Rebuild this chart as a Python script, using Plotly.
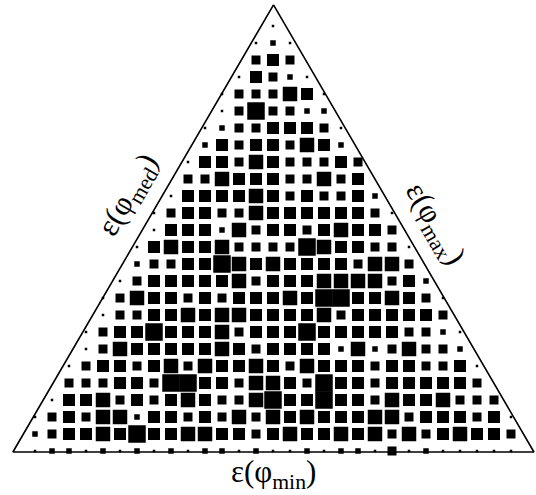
import plotly.graph_objects as go

# size level of every grid cell, one list per row (top to bottom), centred on the apex column
rows = [
    [0],
    [0, 1, 0],
    [2, 3, 2],
    [0, 3, 2, 1, 0],
    [0, 2, 2, 2, 4, 3, 0],
    [0, 2, 5, 2, 2, 1, 1],
    [0, 1, 2, 2, 3, 3, 3, 2, 0],
    [1, 3, 2, 3, 3, 2, 4, 3, 1],
    [0, 3, 3, 2, 4, 3, 2, 2, 2, 3, 2],
    [2, 2, 4, 3, 3, 3, 2, 2, 4, 2, 3],
    [0, 3, 3, 3, 3, 4, 3, 2, 3, 2, 2, 3, 1],
    [0, 2, 3, 3, 2, 2, 4, 3, 3, 3, 3, 3, 3, 2, 0],
    [0, 3, 3, 3, 1, 4, 2, 3, 3, 2, 3, 4, 3, 3, 2],
    [0, 3, 4, 3, 3, 4, 2, 2, 2, 2, 5, 4, 3, 3, 2, 2, 0],
    [1, 2, 2, 3, 3, 5, 4, 3, 4, 3, 3, 3, 3, 2, 4, 4, 2],
    [0, 2, 3, 3, 3, 3, 3, 4, 2, 3, 3, 3, 4, 4, 4, 4, 2, 3, 1],
    [0, 2, 4, 3, 3, 2, 3, 2, 3, 3, 3, 4, 3, 5, 5, 3, 3, 4, 3, 2, 0],
    [0, 2, 2, 3, 3, 4, 3, 4, 4, 3, 3, 3, 3, 4, 2, 3, 3, 3, 3, 3, 2],
    [0, 2, 3, 3, 5, 3, 3, 3, 4, 2, 3, 3, 3, 5, 3, 3, 3, 3, 3, 2, 2, 1, 0],
    [0, 2, 4, 3, 3, 3, 3, 3, 4, 3, 2, 3, 3, 3, 3, 1, 4, 1, 2, 4, 2, 2, 1],
    [0, 2, 3, 3, 2, 3, 4, 2, 4, 3, 3, 4, 3, 2, 4, 3, 3, 3, 2, 3, 3, 2, 2, 3, 0],
    [2, 2, 2, 3, 3, 2, 5, 5, 3, 3, 2, 4, 4, 3, 2, 5, 3, 3, 2, 3, 3, 3, 3, 3, 2],
    [0, 3, 3, 4, 2, 3, 2, 3, 4, 3, 2, 2, 4, 5, 3, 3, 5, 3, 3, 2, 4, 3, 3, 4, 2, 2, 2],
    [0, 2, 3, 2, 4, 4, 1, 3, 3, 2, 3, 2, 4, 2, 4, 3, 4, 3, 3, 3, 4, 4, 2, 3, 3, 3, 2, 3, 0],
    [1, 2, 3, 3, 4, 3, 5, 3, 3, 4, 4, 3, 3, 2, 3, 4, 3, 3, 4, 3, 4, 2, 4, 2, 3, 4, 3, 3, 2],
    [0, 1, 1, 0, 1, 0, 1, 0, 1, 0, 1, 1, 0, 1, 0, 0, 1, 0, 1, 1, 0, 2, 0, 1, 0, 0, 0, 0, 0],
]

labels = ["ε(φ<sub>min</sub>)", "ε(φ<sub>med</sub>)", "ε(φ<sub>max</sub>)"]

# marker side in px for each level
level_px = [2.5, 5.5, 9, 12, 14.5, 17.5]

xs, ys, ss = [], [], []
for k, row in enumerate(rows):
    m = (len(row) - 1) // 2
    for i, lv in enumerate(row):
        xs.append(i - m)
        ys.append(k)
        ss.append(level_px[lv])

fig = go.Figure()

# triangle outline
fig.add_trace(go.Scatter(x=[0.03, -15.3, 15.35, 0.03], y=[-1.24, 25.06, 25.06, -1.24],
                         mode="lines", line=dict(color="black", width=1.6),
                         hoverinfo="skip", showlegend=False))

fig.add_trace(go.Scatter(x=xs, y=ys, mode="markers",
                         marker=dict(symbol="square", size=ss, color="black", opacity=1,
                                     line=dict(width=0)),
                         showlegend=False))

font = dict(family="Liberation Serif", size=31, color="black")
pos = [(273, 474, 0), (129, 196, -60), (434, 224, 60)]
for txt, (px, py, ang) in zip(labels, pos):
    fig.add_annotation(text=txt, x=px / 536, y=1 - py / 495, xref="paper", yref="paper",
                       xanchor="center", yanchor="middle", showarrow=False,
                       font=font, textangle=ang)

fig.update_layout(width=536, height=495, margin=dict(l=0, r=0, t=0, b=0),
                  plot_bgcolor="white", paper_bgcolor="white")
fig.update_xaxes(range=[-273 / 17, (536 - 273) / 17], visible=False)
fig.update_yaxes(range=[(495 - 26) / 17, -26 / 17], visible=False)

fig.write_html("out.html", config={"displayModeBar": False},
               post_script="document.body.style.margin='0';")
